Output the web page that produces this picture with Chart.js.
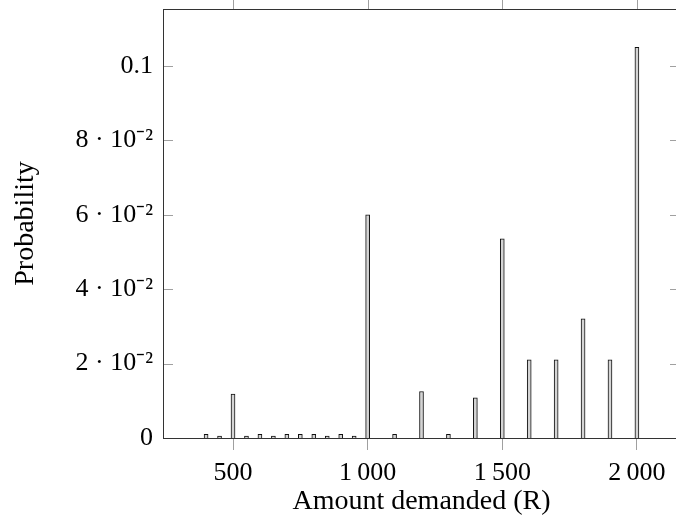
<!DOCTYPE html>
<html>
<head>
<meta charset="utf-8">
<script src="https://cdn.jsdelivr.net/npm/chart.js@4/dist/chart.umd.min.js"></script>
<style>
  html, body { margin: 0; padding: 0; background: #fff; overflow: hidden; width: 676px; height: 520px; }
  #wrap { width: 682px; height: 520px; }
</style>
</head>
<body>
<div id="wrap"><canvas id="c" width="682" height="520"></canvas></div>
<script>
// Data
const amounts = [400, 450, 500, 550, 600, 650, 700, 750, 800, 850, 900, 950,
  1000, 1050, 1100, 1150, 1200, 1250, 1300, 1350, 1400, 1450, 1500, 1550,
  1600, 1650, 1700, 1750, 1800, 1850, 1900, 1950, 2000];
const probabilities = [0.001, 0.0005, 0.0118, 0.0005, 0.001, 0.0005, 0.001, 0.001, 0.001, 0.0005, 0.001, 0.0005,
  0.06, 0, 0.001, 0, 0.0125, 0, 0.001, 0, 0.0108, 0, 0.0535, 0,
  0.021, 0, 0.021, 0, 0.032, 0, 0.021, 0, 0.105];
const xTickValues = [500, 1000, 1500, 2000];
const xTickLabels = ['500', '1\u2009000', '1\u2009500', '2\u2009000'];
const yTickValues = [0, 0.02, 0.04, 0.06, 0.08, 0.1];
const yTickLabels = ['0', '2 \u00b7 10\u207b\u00b2', '4 \u00b7 10\u207b\u00b2', '6 \u00b7 10\u207b\u00b2', '8 \u00b7 10\u207b\u00b2', '0.1'];

const FONT = "'Liberation Serif', 'Times New Roman', serif";

const framePlugin = {
  id: 'frame',
  afterDatasetsDraw(chart) {
    const ctx = chart.ctx;
    const a = chart.chartArea;
    const xs = chart.scales.x, ys = chart.scales.y;
    ctx.save();
    ctx.strokeStyle = '#a0a0a0';
    ctx.lineWidth = 1;
    // y ticks inside (left and right)
    ys.ticks.forEach(t => {
      const y = Math.round(ys.getPixelForValue(t.value)) + 0.5;
      ctx.beginPath();
      ctx.moveTo(a.left, y); ctx.lineTo(a.left + 10, y);
      ctx.moveTo(a.right - 10, y); ctx.lineTo(a.right, y);
      ctx.stroke();
    });
    // x ticks on top, outside
    xs.ticks.forEach(t => {
      const x = Math.round(xs.getPixelForValue(t.value)) + 0.5;
      ctx.beginPath();
      ctx.moveTo(x, a.top); ctx.lineTo(x, a.top - 12);
      ctx.stroke();
    });
    // frame
    ctx.strokeStyle = '#333';
    ctx.strokeRect(Math.round(a.left) + 0.5, Math.round(a.top) + 0.5,
      Math.round(a.right - a.left), Math.round(a.bottom - a.top));
    ctx.restore();
  }
};

new Chart(document.getElementById('c'), {
  type: 'bar',
  data: {
    datasets: [{
      data: amounts.map((x, i) => ({ x: x, y: probabilities[i] })),
      backgroundColor: '#d4d4d4',
      borderColor: '#111',
      borderWidth: 1,
      borderSkipped: 'bottom',
      barThickness: 4
    }]
  },
  options: {
    responsive: false,
    animation: false,
    devicePixelRatio: 1,
    layout: { padding: { left: 0, right: 2, top: 9, bottom: 0 } },
    plugins: { legend: { display: false }, tooltip: { enabled: false } },
    scales: {
      x: {
        type: 'linear',
        offset: false,
        min: 240,
        max: 2160,
        afterBuildTicks(scale) { scale.ticks = xTickValues.map(v => ({ value: v })); },
        afterFit(scale) { scale.height = 82; scale.paddingLeft = 0; scale.paddingRight = 0; },
        ticks: {
          callback: (v) => xTickLabels[xTickValues.indexOf(v)],
          font: { family: FONT, size: 26 },
          color: '#000',
          padding: 8,
          maxRotation: 0,
          autoSkip: false
        },
        grid: { offset: false, drawOnChartArea: false, drawTicks: true, tickLength: 12, color: '#a0a0a0' },
        border: { display: true, color: '#333' },
        title: {
          display: true,
          text: 'Amount demanded (R)',
          font: { family: FONT, size: 28 },
          color: '#000',
          padding: { top: 0, bottom: 2 }
        }
      },
      y: {
        min: 0,
        max: 0.1153,
        afterBuildTicks(scale) { scale.ticks = yTickValues.map(v => ({ value: v })); },
        afterFit(scale) { scale.width = 163; scale.paddingTop = 0; scale.paddingBottom = 0; },
        ticks: {
          callback: (v) => { const i = yTickValues.findIndex(t => Math.abs(t - v) < 1e-9); return i >= 0 ? yTickLabels[i] : ''; },
          font: { family: FONT, size: 26 },
          color: '#000',
          padding: 10,
          autoSkip: false
        },
        grid: { display: false, drawTicks: false },
        border: { display: true, color: '#333' },
        title: {
          display: true,
          text: 'Probability',
          font: { family: FONT, size: 28 },
          color: '#000',
          padding: { top: 9, bottom: 0 }
        }
      }
    }
  },
  plugins: [framePlugin]
});
</script>
</body>
</html>
